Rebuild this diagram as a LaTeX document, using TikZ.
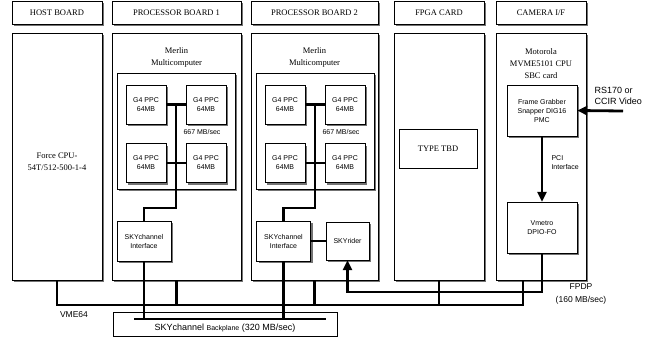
\documentclass[tikz,border=0pt]{standalone}
\usepackage{fontspec}
\setmainfont{Liberation Serif}
\setsansfont{Liberation Sans}
\usetikzlibrary{positioning,calc,arrows.meta,shadows}
\tikzset{SHADOW/.style={drop shadow={shadow xshift=2.2pt,shadow yshift=-2.2pt,fill=black!55,opacity=1}}}
\tikzset{HEADER/.style={rectangle,draw,semithick,fill=white,SHADOW,minimum width=90pt,minimum height=23pt,align=center,font=\fontsize{8.5}{10}\selectfont}}
\tikzset{BOARD/.style={rectangle,draw,semithick,fill=white,SHADOW,minimum width=90pt,minimum height=247pt}}
\tikzset{CLUSTER/.style={rectangle,draw,thin,fill=white,SHADOW}}
\tikzset{UNIT/.style={rectangle,draw,thin,fill=white,SHADOW,align=center,font=\sffamily\fontsize{7}{9}\selectfont}}
\tikzset{SERIF/.style={align=center,font=\fontsize{8.5}{12}\selectfont}}
\tikzset{SANS/.style={align=center,font=\sffamily\fontsize{7}{9}\selectfont}}
\tikzset{BUS/.style={line width=2.8pt}}
\tikzset{ARROW/.style={line width=2.8pt,-{Triangle[length=10pt,width=9pt]}}}

\begin{document}
\begin{tikzpicture}[x=1pt,y=-1pt]
\useasboundingbox (0,0) rectangle (655,349);

\node[HEADER] (n_host_hd) at (57,12.5) {HOST BOARD};
\node[HEADER,minimum width=129pt] (n_proc1_hd) at (176.5,12.5) {PROCESSOR BOARD 1};
\node[HEADER,minimum width=127pt] (n_proc2_hd) at (314.5,12.5) {PROCESSOR BOARD 2};
\node[HEADER] (n_fpga_hd) at (439,12.5) {FPGA CARD};
\node[HEADER] (n_cam_hd) at (541,12.5) {CAMERA I/F};

\node[BOARD] (n_host) at (57,156.5) {};
\node[BOARD,minimum width=129pt] (n_proc1) at (176.5,156.5) {};
\node[BOARD,minimum width=127pt] (n_proc2) at (314.5,156.5) {};
\node[BOARD] (n_fpga) at (439,156.5) {};
\node[BOARD] (n_cam) at (541,156.5) {};

\node[SERIF] (n_force) at (57,162) {Force CPU-\\54T/512-500-1-4};
\node[SERIF] (n_merlin1) at (176.5,57) {Merlin\\Multicomputer};
\node[SERIF] (n_merlin2) at (314.5,57) {Merlin\\Multicomputer};
\node[SERIF] (n_moto) at (541,64) {Motorola\\MVME5101 CPU\\SBC card};

\node[CLUSTER,minimum width=118pt,minimum height=116pt] (n_mc1) at (176,131) {};
\node[CLUSTER,minimum width=118pt,minimum height=116pt] (n_mc2) at (315,131) {};

\node[UNIT,minimum width=40pt,minimum height=39pt] (n_g4_1a) at (146,104.5) {G4 PPC\\64MB};
\node[UNIT,minimum width=40pt,minimum height=39pt] (n_g4_1b) at (206,104.5) {G4 PPC\\64MB};
\node[UNIT,minimum width=40pt,minimum height=39pt] (n_g4_1c) at (146,163) {G4 PPC\\64MB};
\node[UNIT,minimum width=40pt,minimum height=39pt] (n_g4_1d) at (206,163) {G4 PPC\\64MB};
\node[UNIT,minimum width=40pt,minimum height=39pt] (n_g4_2a) at (285,104.5) {G4 PPC\\64MB};
\node[UNIT,minimum width=40pt,minimum height=39pt] (n_g4_2b) at (345,104.5) {G4 PPC\\64MB};
\node[UNIT,minimum width=40pt,minimum height=39pt] (n_g4_2c) at (285,163) {G4 PPC\\64MB};
\node[UNIT,minimum width=40pt,minimum height=39pt] (n_g4_2d) at (345,163) {G4 PPC\\64MB};

\node[SANS] (n_rate1) at (202,132) {667 MB/sec};
\node[SANS] (n_rate2) at (341,132) {667 MB/sec};

\node[UNIT,minimum width=54pt,minimum height=40pt] (n_sky1) at (144,241) {SKYchannel\\Interface};
\node[UNIT,minimum width=54pt,minimum height=40pt] (n_sky2) at (283.5,241) {SKYchannel\\Interface};
\node[UNIT,minimum width=43pt,minimum height=38pt] (n_rider) at (347.5,241) {SKYrider};

\draw[BUS] (n_g4_1a.east) -- (n_g4_1b.west);
\draw[BUS] (n_g4_1c.east) -- (n_g4_1d.west);
\draw[BUS] ($(n_g4_1a.east)!0.5!(n_g4_1b.west)$) -- ++(0,103.5) -| (n_sky1.north);
\draw[BUS] (n_g4_2a.east) -- (n_g4_2b.west);
\draw[BUS] (n_g4_2c.east) -- (n_g4_2d.west);
\draw[BUS] ($(n_g4_2a.east)!0.5!(n_g4_2b.west)$) -- ++(0,103.5) -| (n_sky2.north);
\draw[BUS] (n_sky2.east) -- (n_rider.west);

\node[rectangle,draw,thin,fill=white,minimum width=78pt,minimum height=39pt,font=\fontsize{8.5}{10}\selectfont] (n_tbd) at (438,148.5) {TYPE TBD};

\node[UNIT,minimum width=70pt,minimum height=51pt] (n_grabber) at (542,110.5) {Frame Grabber\\Snapper DIG16\\PMC};
\node[UNIT,minimum width=70pt,minimum height=51pt] (n_vmetro) at (542,227.5) {Vmetro\\DPIO-FO};
\draw[ARROW] (n_grabber.south) -- (n_vmetro.north);
\node[SANS,align=left,anchor=west] (n_pci_lbl) at (548,162.5) {PCI\\Interface};

\coordinate (c_video) at (623,111);
\draw[ARROW] (c_video) -- (n_grabber.east);
\node[SANS,align=left,anchor=west,font=\sffamily\fontsize{9}{11}\selectfont] (n_video_lbl) at (591,96) {RS170 or\\CCIR Video};

\coordinate (c_vme) at (523,305);
\draw[BUS] (n_host.south) |- (c_vme) -- (c_vme |- n_cam.south);
\draw[BUS] (n_proc1.south) -- (n_proc1.south |- c_vme);
\draw[BUS] (n_proc2.south) -- (n_proc2.south |- c_vme);
\draw[BUS] (n_fpga.south) -- (n_fpga.south |- c_vme);
\node[SANS,font=\sffamily\fontsize{8.5}{10}\selectfont] (n_vme_lbl) at (74,315) {VME64};

\coordinate (c_fpdp) at (542,292);
\draw[ARROW] (n_vmetro.south) -- (c_fpdp) -| (n_rider.south);
\node[SANS,font=\sffamily\fontsize{8.5}{13}\selectfont] (n_fpdp_lbl) at (581,293.5) {FPDP\\(160 MB/sec)};

\node[rectangle,draw,thin,fill=white,minimum width=224pt,minimum height=24pt] (n_backplane) at (225,324) {};
\coordinate (c_bp_w) at (134,319);
\coordinate (c_bp_e) at (326,319);
\draw[BUS] (c_bp_w) -- (c_bp_e);
\draw[BUS] (n_sky1.south) -- (n_sky1.south |- c_bp_w);
\draw[BUS] (n_sky2.south) -- (n_sky2.south |- c_bp_w);
\node[font=\sffamily\fontsize{9}{10}\selectfont] (n_bp_lbl) at (225,328) {SKYchannel {\fontsize{7}{8}\selectfont Backplane} (320 MB/sec)};

\end{tikzpicture}
\end{document}
